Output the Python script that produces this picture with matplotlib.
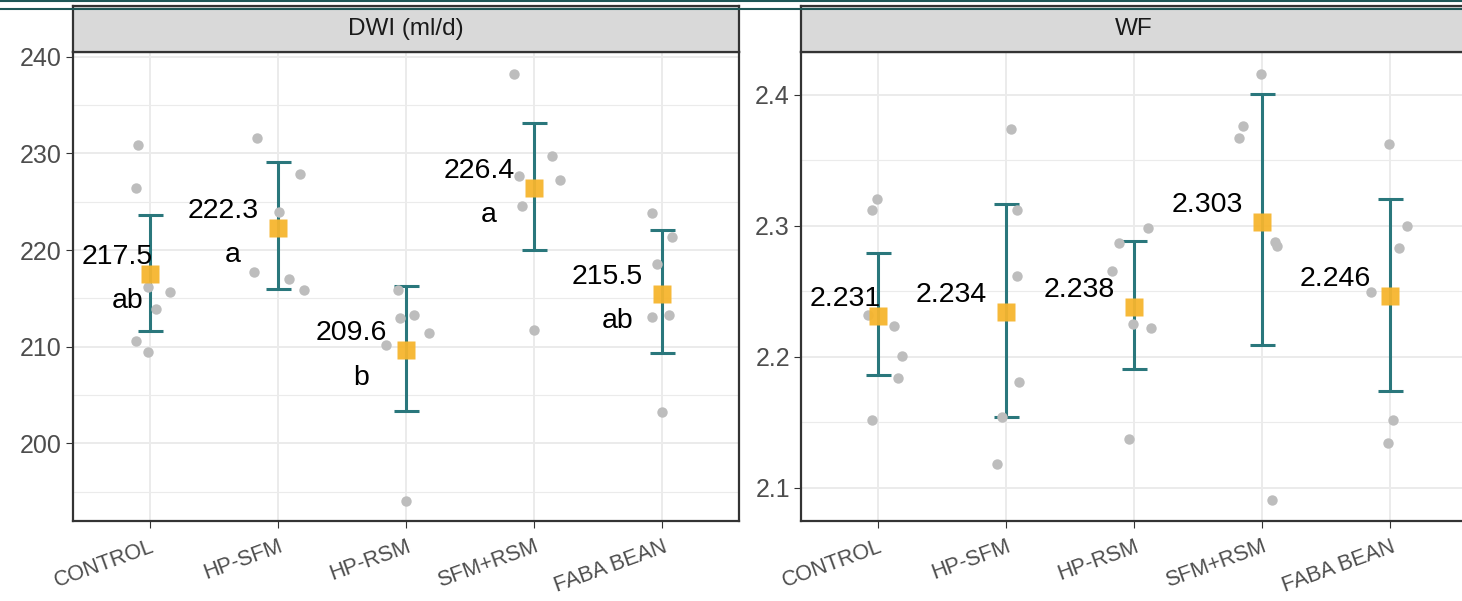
import numpy as np
import matplotlib
matplotlib.use("Agg")
import matplotlib.pyplot as plt
from matplotlib.lines import Line2D

plt.rcParams['font.family'] = ['Liberation Sans', 'DejaVu Sans']

# --- data ---
groups = ["CONTROL", "HP-SFM", "HP-RSM", "SFM+RSM", "FABA BEAN"]

dwi_mean = [217.5, 222.3, 209.6, 226.4, 215.5]
dwi_low = [211.65, 215.99, 203.3, 220.05, 209.3]
dwi_high = [223.62, 229.08, 216.32, 233.18, 222.1]
dwi_letters = ["ab", "a", "b", "a", "ab"]
dwi_points = [
    [230.84, 226.45, 216.14, 215.68, 213.86, 210.55, 209.44],
    [231.63, 227.9, 223.97, 217.75, 216.96, 215.9],
    [215.88, 213.32, 212.97, 211.45, 210.2, 194.04],
    [238.19, 229.72, 227.62, 227.27, 224.58, 211.73],
    [223.8, 221.3, 218.57, 213.1, 213.3, 203.24],
]
dwi_jitter = [
    [-0.094, -0.11, -0.016, 0.156, 0.05, -0.11, -0.016],
    [-0.16, 0.17, 0.005, -0.19, 0.09, 0.20],
    [-0.065, 0.065, -0.047, 0.18, -0.16, 0.0],
    [-0.156, 0.14, -0.117, 0.2, -0.094, 0.0],
    [-0.078, 0.08, -0.04, -0.078, 0.05, 0.0],
]

wf_mean = [2.231, 2.234, 2.238, 2.303, 2.246]
wf_low = [2.1863, 2.1542, 2.1908, 2.2093, 2.174]
wf_high = [2.2794, 2.3163, 2.2883, 2.4002, 2.3204]
wf_points = [
    [2.3202, 2.312, 2.2316, 2.2237, 2.2005, 2.1837, 2.1519],
    [2.3736, 2.312, 2.2618, 2.1809, 2.1542, 2.1183],
    [2.2985, 2.2866, 2.2652, 2.2251, 2.2223, 2.1372],
    [2.4156, 2.376, 2.3671, 2.2878, 2.2845, 2.0909],
    [2.3624, 2.2998, 2.2832, 2.2492, 2.1517, 2.134],
]
wf_jitter = [
    [-0.01, -0.047, -0.08, 0.127, 0.19, 0.16, -0.047],
    [0.037, 0.086, 0.086, 0.1, -0.03, -0.07],
    [0.11, -0.12, -0.17, -0.01, 0.13, -0.04],
    [-0.01, -0.148, -0.18, 0.1, 0.12, 0.08],
    [-0.008, 0.135, 0.07, -0.15, 0.026, -0.02],
]

# --- layout (pixels of a 1462x601 canvas) ---
W, H = 1462, 601
fig = plt.figure(figsize=(W / 100, H / 100), dpi=100)

TEAL = "#2A777C"
ORANGE = "#F6B52E"
GRAY_PT = "#BDBDBD"
BORDER = "#333333"
GRID = "#EBEBEB"


def panel(x0, title, means, low, high, points, jitter, ylim, major, minor, fmt, letters=None):
    ax = fig.add_axes([x0 / W, 1 - 521 / H, 666 / W, 469 / H])
    strip = fig.add_axes([x0 / W, 1 - 52 / H, 666 / W, 46 / H])

    # strip
    strip.set_facecolor("#D9D9D9")
    strip.set_xticks([])
    strip.set_yticks([])
    for s in strip.spines.values():
        s.set_color(BORDER)
        s.set_linewidth(1.6)
    strip.text(0.5, 0.5, title, ha="center", va="center", fontsize=17.5, color="#1A1A1A",
               transform=strip.transAxes)

    x = np.arange(len(groups))
    ax.set_xlim(-0.6, len(groups) - 0.4)
    ax.set_ylim(*ylim)
    ax.set_yticks(major)
    ax.set_yticks(minor, minor=True)
    ax.set_xticks(x)
    ax.set_xticklabels(groups, rotation=20, ha="right", rotation_mode="anchor")
    ax.tick_params(axis="x", labelsize=15.5, labelcolor="#4D4D4D", color=BORDER, length=5, pad=6)
    ax.tick_params(axis="y", labelsize=18, labelcolor="#4D4D4D", color=BORDER, length=5, pad=3)
    ax.tick_params(axis="y", which="minor", length=0)
    ax.yaxis.set_major_formatter(plt.FuncFormatter(lambda v, p: f"{v:g}"))
    ax.grid(True, which="major", color=GRID, lw=1.4)
    ax.grid(True, which="minor", axis="y", color=GRID, lw=0.8)
    ax.set_axisbelow(True)
    for s in ax.spines.values():
        s.set_color(BORDER)
        s.set_linewidth(1.6)

    # raw points
    for i in range(len(groups)):
        ax.plot(i + np.array(jitter[i]), points[i], "o", ms=7.5, color=GRAY_PT,
                mec="none", zorder=3)

    # 95% CI + mean
    means = np.array(means)
    ax.errorbar(x, means, yerr=[means - np.array(low), np.array(high) - means], fmt="none",
                ecolor=TEAL, elinewidth=2.2, capsize=9, capthick=2.2, zorder=2.5)
    ax.plot(x, means, "s", ms=13, color=ORANGE, mec="none", alpha=0.95, zorder=4)

    # labels
    texts = []
    for i, m in enumerate(means):
        t1 = ax.annotate(fmt.format(m), xy=(i, m), xytext=(-13.7, 7.2),
                         textcoords="offset points", ha="right", va="baseline",
                         fontsize=20.5, color="black", zorder=5)
        t2 = None
        if letters is not None:
            t2 = ax.annotate(letters[i], xy=(i, m), xytext=(-32.4, -24.5),
                             textcoords="offset points", ha="center", va="baseline",
                             fontsize=20.5, color="black", zorder=5)
        texts.append((t1, t2))
    return ax, texts


ax1, txt1 = panel(73, "DWI (ml/d)", dwi_mean, dwi_low, dwi_high, dwi_points, dwi_jitter,
                  (191.95, 240.5), [200, 210, 220, 230, 240], [195, 205, 215, 225, 235],
                  "{:.1f}", dwi_letters)
ax2, txt2 = panel(801, "WF", wf_mean, wf_low, wf_high, wf_points, wf_jitter,
                  (2.0747, 2.4325), [2.1, 2.2, 2.3, 2.4], [2.15, 2.25, 2.35],
                  "{:.3f}")

# keep labels inside the panel (like a repel would)
fig.canvas.draw()
r = fig.canvas.get_renderer()
for ax, texts in [(ax1, txt1), (ax2, txt2)]:
    left = ax.get_window_extent(r).x0
    for t1, t2 in texts:
        bb = t1.get_window_extent(r)
        if bb.x0 < left + 9:
            shift = (left + 9 - bb.x0) * 0.72
            t1.xyann = (t1.xyann[0] + shift, t1.xyann[1])
            if t2 is not None:
                t2.xyann = (t2.xyann[0] + shift, t2.xyann[1])

# screenshot frame lines on top
for yy in [0.5, 9]:
    fig.add_artist(Line2D([0, 1], [1 - yy / H, 1 - yy / H], color="#1E5757", lw=1.5,
                          transform=fig.transFigure, zorder=10))

fig.savefig("out.png", dpi=100)
